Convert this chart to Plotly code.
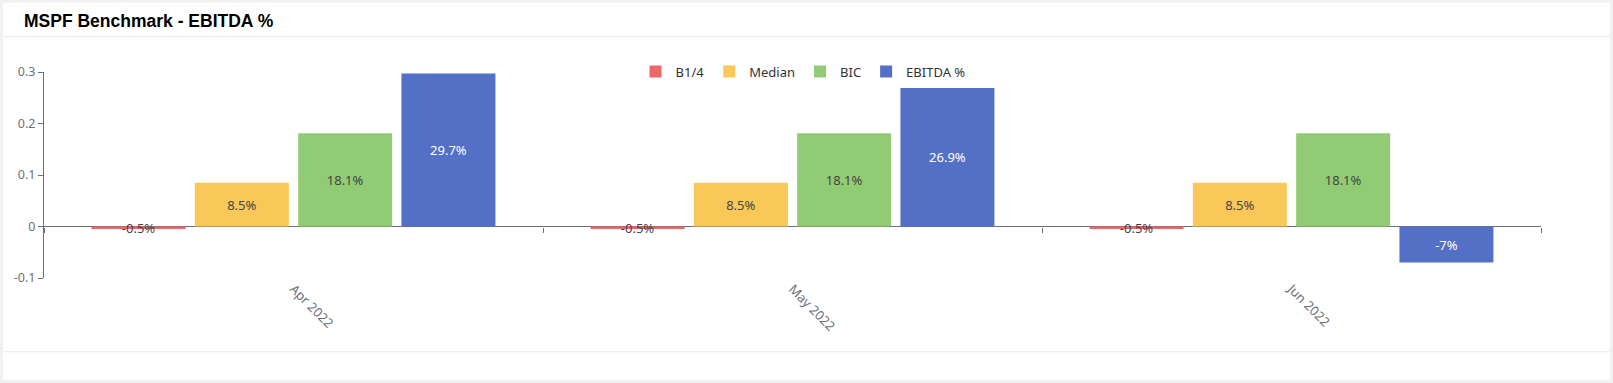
import plotly.graph_objects as go

# ---- data ----
categories = ["Apr 2022", "May 2022", "Jun 2022"]
series_names = ["B1/4", "Median", "BIC", "EBITDA %"]
b14 = [-0.005, -0.005, -0.005]
median = [0.085, 0.085, 0.085]
bic = [0.181, 0.181, 0.181]
ebitda = [0.297, 0.269, -0.07]
y_tickvals = [-0.1, 0, 0.1, 0.2, 0.3]
y_ticktext = ["-0.1", "0", "0.1", "0.2", "0.3"]

# ---- styles ----
colors = ["#ee6666", "#fac858", "#91cc75", "#5470c6"]
label_colors = ["#444444", "#444444", "#444444", "#ffffff"]
W, H = 1613, 383
PL, PR, PT, PB = 44, 1541, 71.5, 278  # plot area in page px
FONT = "Noto Sans, Open Sans, sans-serif"
AXIS_GRAY = "#6e7079"
FS = 13


def px_x(px):
    return (px - PL) / (PR - PL)


def px_y(py):
    return (PB - py) / (PB - PT)


def fmt(v):
    return f"{round(v * 100, 1):g}%"


fig = go.Figure()
for name, vals, c, lc in zip(series_names, [b14, median, bic, ebitda], colors, label_colors):
    fig.add_trace(go.Bar(
        name=name, x=categories, y=vals,
        marker=dict(color=c, line=dict(width=0)),
        text=[fmt(v) for v in vals],
        textposition="inside", insidetextanchor="middle",
        constraintext="none",
        insidetextfont=dict(color=lc, size=FS, family=FONT),
        hoverinfo="skip",
    ))

# invisible helper trace for boundary ticks on the zero line
fig.add_trace(go.Scatter(x=categories, y=[0, 0, 0], xaxis="x2", mode="markers",
                         marker=dict(opacity=0), showlegend=False, hoverinfo="skip"))

shapes = []
# card background
x0, x1 = px_x(3), px_x(1610)
y0, y1 = px_y(380), px_y(2)
shapes.append(dict(type="rect", xref="paper", yref="paper", x0=x0, x1=x1, y0=y0, y1=y1,
                   fillcolor="white", line=dict(width=0), layer="below"))
for ly in (36, 352):
    shapes.append(dict(type="line", xref="paper", yref="paper", x0=x0, x1=x1,
                       y0=px_y(ly), y1=px_y(ly), line=dict(color="#e8eaea", width=1), layer="below"))

fig.update_layout(
    width=W, height=H,
    margin=dict(l=PL, r=W - PR, t=PT, b=H - PB, pad=0),
    paper_bgcolor="#f0f2f2", plot_bgcolor="rgba(0,0,0,0)",
    barmode="group", bargap=0.172, bargroupgap=0.09,
    uniformtext=dict(minsize=FS, mode="show"),
    font=dict(family=FONT, size=FS, color="#333333"),
    showlegend=True,
    legend=dict(orientation="h", x=px_x(803), xanchor="center", y=px_y(71), yanchor="middle",
                font=dict(size=FS, color="#333333", family=FONT), bgcolor="rgba(0,0,0,0)",
                traceorder="normal"),
    xaxis=dict(type="category", categoryorder="array", categoryarray=categories,
               range=[-0.5, 2.5], showline=False, ticks="", showgrid=False, zeroline=False,
               tickangle=45, tickfont=dict(color=AXIS_GRAY, size=FS, family=FONT)),
    xaxis2=dict(type="category", categoryorder="array", categoryarray=categories,
                overlaying="x", anchor="free", position=0.25, range=[-0.5, 2.5],
                showline=False, ticks="outside", tickson="boundaries", ticklen=5,
                tickcolor=AXIS_GRAY, tickwidth=1, showticklabels=False, showgrid=False),
    yaxis=dict(range=[-0.1, 0.3], tickvals=y_tickvals, ticktext=y_ticktext,
               showgrid=False, zeroline=True, zerolinecolor=AXIS_GRAY, zerolinewidth=1,
               showline=True, linecolor=AXIS_GRAY, linewidth=1,
               ticks="outside", ticklen=5, tickcolor=AXIS_GRAY,
               tickfont=dict(color=AXIS_GRAY, size=12.5, family=FONT)),
    shapes=shapes,
    annotations=[dict(text="<b>MSPF Benchmark - EBITDA %</b>", xref="paper", yref="paper",
                      x=px_x(22), y=px_y(20), xanchor="left", yanchor="middle", showarrow=False,
                      font=dict(family="Arial, Liberation Sans", size=17.5, color="#000000"))],
)

fig.write_html("out.html")
